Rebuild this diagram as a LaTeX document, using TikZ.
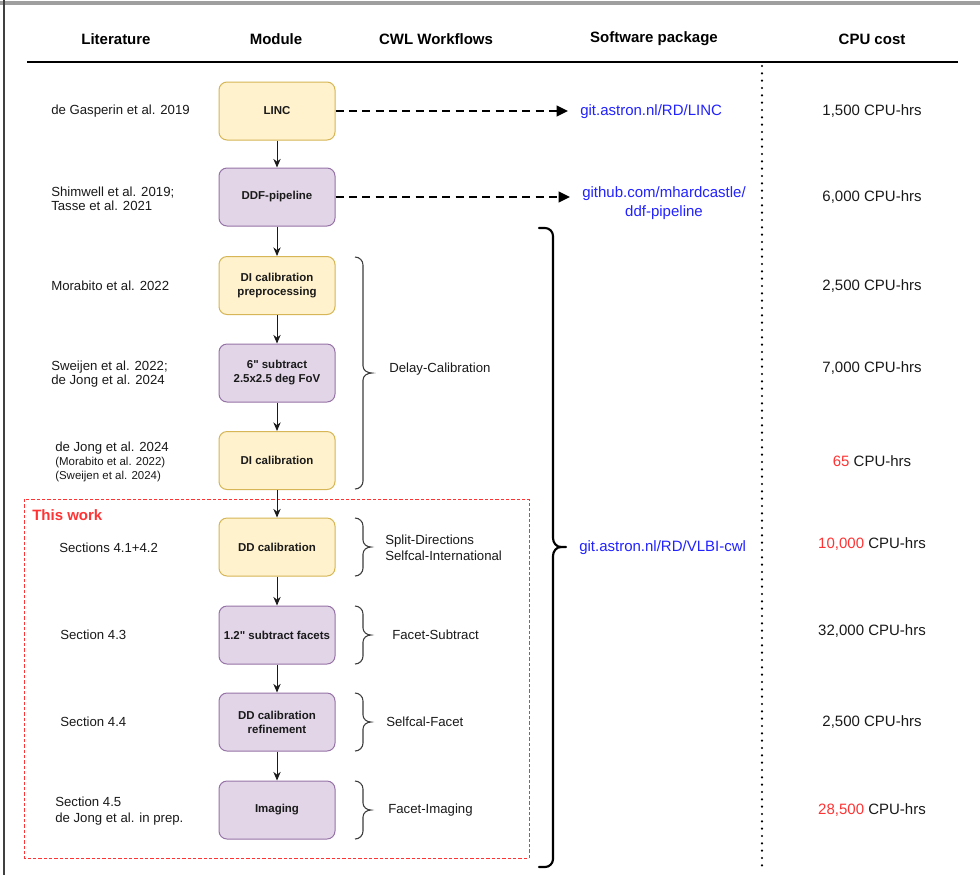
\documentclass[tikz,border=0pt]{standalone}
\usepackage{fontspec}
\setmainfont{Liberation Sans}
\newfontfamily\plainquote{Liberation Sans}
\usetikzlibrary{arrows.meta}
\definecolor{yfill}{HTML}{FFF2CC}
\definecolor{ydraw}{HTML}{D6B656}
\definecolor{pfill}{HTML}{E1D5E7}
\definecolor{pdraw}{HTML}{9673A6}
\definecolor{linkblue}{HTML}{2222FF}
\definecolor{cred}{HTML}{FF3333}
\definecolor{txt}{HTML}{1A1A1A}
\begin{document}
\begin{tikzpicture}[x=0.75pt,y=-0.75pt,
 every node/.style={inner sep=0pt, text=txt},
 hdr/.style={font=\fontsize{11.25}{13}\selectfont\bfseries, text=black},
 lit/.style={anchor=west, font=\fontsize{9.9}{10.7}\selectfont, align=left},
 litsmall/.style={anchor=west, font=\fontsize{8.6}{10}\selectfont},
 cwl/.style={anchor=west, font=\fontsize{9.9}{12}\selectfont, align=left},
 cpu/.style={font=\fontsize{11.25}{13}\selectfont},
 url/.style={font=\fontsize{11.25}{14.25}\selectfont, text=linkblue, align=center},
 modbox/.style={rounded corners=6pt, minimum width=87pt, minimum height=43.5pt, align=center, font=\fontsize{8.6}{10.5}\selectfont\bfseries, line width=0.75pt},
 ybox/.style={modbox, fill=yfill, draw=ydraw},
 pbox/.style={modbox, fill=pfill, draw=pdraw},
 flow/.style={-{Stealth[length=6.5pt,width=5.5pt]}, line width=0.75pt, draw=txt},
 dflow/.style={-{Triangle[length=8.5pt,width=8pt]}, line width=1.5pt, dash pattern=on 6pt off 4pt, shorten >=9pt},
 brc/.style={draw=txt!85, line width=0.8pt},
 bigbrc/.style={draw=black, line width=1.6pt},
]
\useasboundingbox (0,0) rectangle (980,875);
\fill[white] (0,0) rectangle (980,875);
% frame edges
\draw[gray!75, line width=2.4pt] (0,3) -- (980,3);
\draw[black!75, line width=1.8pt] (4,0) -- (4,875);

% headers
\node[hdr] (hLit) at (116,39) {Literature};
\node[hdr] (hMod) at (276,39) {Module};
\node[hdr] (hCwl) at (436,39) {CWL Workflows};
\node[hdr] (hSw) at (654,39) {Software package};
\node[hdr] (hCpu) at (872,39) {CPU cost};
\draw[black, line width=0.9pt] (27,62) -- (958,62);
\draw[black, line width=1.8pt, dash pattern=on 0pt off 5.5pt, line cap=round] (762,66) -- (762,870);

% red "This work" region
\draw[cred, line width=0.75pt, dash pattern=on 2.5pt off 1.5pt] (24,499) rectangle (529,858);
\node[anchor=west, text=cred, font=\fontsize{11.25}{13}\selectfont\bfseries] (thiswork) at (32,515) {This work};

% module boxes
\node[ybox] (LINC) at (277,111) {LINC};
\node[pbox] (DDF) at (277,197) {DDF-pipeline};
\node[ybox] (DIP) at (277,285.5) {DI calibration\\preprocessing};
\node[pbox] (SUB6) at (277,373) {6{\plainquote "} subtract\\2.5x2.5 deg FoV};
\node[ybox] (DIC) at (277,460.5) {DI calibration};
\node[ybox] (DDC) at (277,547) {DD calibration};
\node[pbox] (SUB12) at (277,635) {1.2{\plainquote "} subtract facets};
\node[pbox] (DDR) at (277,722) {DD calibration\\refinement};
\node[pbox] (IMG) at (277,810) {Imaging};

\draw[flow] (LINC) -- (DDF);
\draw[flow] (DDF) -- (DIP);
\draw[flow] (DIP) -- (SUB6);
\draw[flow] (SUB6) -- (DIC);
\draw[flow] (DIC) -- (DDC);
\draw[flow] (DDC) -- (SUB12);
\draw[flow] (SUB12) -- (DDR);
\draw[flow] (DDR) -- (IMG);

% literature
\node[lit] (lit1) at (51,111) {de Gasperin et al. 2019};
\node[lit] (lit2) at (51,199) {Shimwell et al. 2019;\\Tasse et al. 2021};
\node[lit] (lit3) at (51,286) {Morabito et al. 2022};
\node[lit] (lit4) at (51,374) {Sweijen et al. 2022;\\de Jong et al. 2024};
\node[lit] (lit5a) at (55,448) {de Jong et al. 2024};
\node[litsmall] (lit5b) at (55,462.5) {(Morabito et al. 2022)};
\node[litsmall] (lit5c) at (55,477) {(Sweijen et al. 2024)};
\node[lit] (lit6) at (59,548) {Sections 4.1+4.2};
\node[lit] (lit7) at (60,635) {Section 4.3};
\node[lit] (lit8) at (60,722) {Section 4.4};
\node[lit, font=\fontsize{9.9}{12}\selectfont] (lit9) at (55,811) {Section 4.5\\de Jong et al. in prep.};

% software package links
\node[url, anchor=west] (urlLinc) at (580,112) {git.astron.nl/RD/LINC};
\node[url] (urlDdf) at (664,203.5) {github.com/mhardcastle/\\ddf-pipeline};
\node[url, anchor=west] (urlVlbi) at (579,548) {git.astron.nl/RD/VLBI-cwl};
\draw[dflow] (LINC) -- (LINC -| urlLinc.west);
\draw[dflow] (DDF) -- (DDF -| urlDdf.west);

% CWL braces
\draw[brc] (355,257) to[out=0,in=90] (363,265) -- (363,366) to[out=-90,in=180] (372,373)
  to[out=180,in=90] (363,380) -- (363,481) to[out=-90,in=0] (355,489);
\node[cwl] (cwlDelay) at (389,369) {Delay-Calibration};

\draw[brc] (355,518) to[out=0,in=90] (363,526) -- (363,540) to[out=-90,in=180] (371,547)
  to[out=180,in=90] (363,554) -- (363,568) to[out=-90,in=0] (355,576);
\node[cwl, font=\fontsize{9.9}{12}\selectfont] (cwlSplit) at (385,548) {Split-Directions\\Selfcal-International};

\draw[brc] (355,606) to[out=0,in=90] (363,614) -- (363,628) to[out=-90,in=180] (371,635)
  to[out=180,in=90] (363,642) -- (363,656) to[out=-90,in=0] (355,664);
\node[cwl] (cwlFsub) at (392,635) {Facet-Subtract};

\draw[brc] (355,693) to[out=0,in=90] (363,701) -- (363,715) to[out=-90,in=180] (371,722)
  to[out=180,in=90] (363,729) -- (363,743) to[out=-90,in=0] (355,751);
\node[cwl] (cwlSf) at (386,722) {Selfcal-Facet};

\draw[brc] (355,781) to[out=0,in=90] (363,789) -- (363,803) to[out=-90,in=180] (371,810)
  to[out=180,in=90] (363,817) -- (363,831) to[out=-90,in=0] (355,839);
\node[cwl] (cwlFim) at (388,810) {Facet-Imaging};

% big brace
\draw[bigbrc, line cap=round] (539,228) -- (545,228) to[out=0,in=90] (553,236) -- (553,538)
  to[out=-90,in=180] (561,547) -- (566,547);
\draw[bigbrc, line cap=round] (561,547) to[out=180,in=90] (553,556) -- (553,859)
  to[out=-90,in=0] (545,867) -- (539,867);

% CPU cost
\node[cpu] (cpu1) at (872,111) {1,500 CPU-hrs};
\node[cpu] (cpu2) at (872,197) {6,000 CPU-hrs};
\node[cpu] (cpu3) at (872,286) {2,500 CPU-hrs};
\node[cpu] (cpu4) at (872,368) {7,000 CPU-hrs};
\node[cpu] (cpu5) at (872,461) {\textcolor{cred}{65} CPU-hrs};
\node[cpu] (cpu6) at (872,544) {\textcolor{cred}{10,000} CPU-hrs};
\node[cpu] (cpu7) at (872,631) {32,000 CPU-hrs};
\node[cpu] (cpu8) at (872,722) {2,500 CPU-hrs};
\node[cpu] (cpu9) at (872,810) {\textcolor{cred}{28,500} CPU-hrs};
\end{tikzpicture}
\end{document}
